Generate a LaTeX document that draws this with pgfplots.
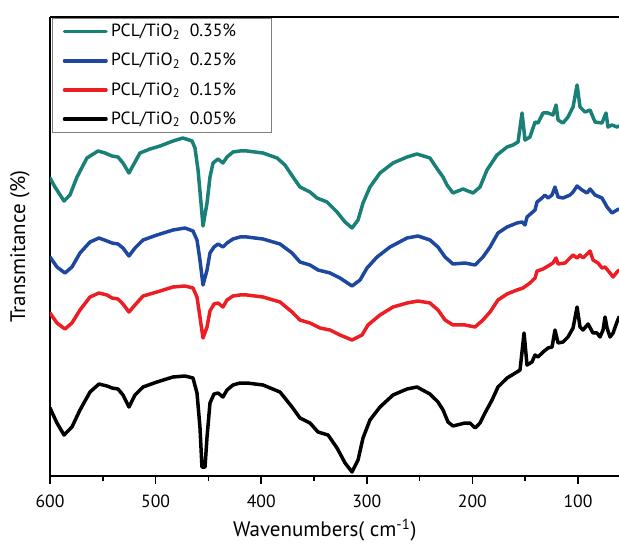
\documentclass[border=0pt]{standalone}
\usepackage{fontspec}
\setmainfont{PT Sans}
\usepackage{pgfplots}
\pgfplotsset{compat=1.18}
\definecolor{cteal}{RGB}{24,128,118}
\definecolor{cblue}{RGB}{30,72,160}
\definecolor{cred}{RGB}{236,30,36}
\begin{document}
\begin{tikzpicture}
\begin{axis}[
  scale only axis, width=341.4pt, height=275.4pt,
  x dir=reverse, xmin=61.2, xmax=600, ymin=0, ymax=459,
  axis x line*=bottom, axis y line*=left,
  axis line style={line width=1pt, -},
  xtick={100,200,300,400,500,600},
  minor xtick={150,250,350,450,550},
  ytick=\empty,
  tick align=outside,
  major tick length=4.8pt, minor tick length=3pt,
  tick style={line width=1pt, black},
  /pgf/number format/assume math mode=true,
  xticklabel style={font=\fontsize{10.6}{12}\selectfont, yshift=-3pt},
  xlabel={Wavenumbers(~cm\textsuperscript{-1})},
  ylabel={Transmitance (\%)},
  xlabel style={font=\fontsize{12.6}{14}\selectfont, at={(axis description cs:0.483,0)}, anchor=center, yshift=-32.4pt},
  ylabel style={font=\fontsize{12.6}{14}\selectfont, at={(axis description cs:-0.053,0.5)}, anchor=center},
  legend cell align=left,
  legend image code/.code={\draw[#1, line width=2pt] (0pt,0pt) -- (25pt,0pt);},
  legend style={draw=gray, line width=0.6pt, at={(axis description cs:0.004,0.998)}, anchor=north west,
    font=\fontsize{10.6}{12}\selectfont, row sep=4.4pt, inner xsep=6pt, inner ysep=1.5pt},
  every axis plot/.append style={line width=2.1pt, line join=round, line cap=round},
]
\addplot[cteal] coordinates {
(600,298)(595.3,289)(586.7,275)(581.1,281)(574.4,299)(565.0,318)(554.5,325)(547.9,323)(541.3,320)(535.6,319)(530.9,313)(525.2,303)(519.5,314)(514.8,323)(505.3,327)(495.8,330)(483.5,335)(474.1,338)(465.5,335)(462.7,328)(459.8,306)(457.0,273)(455.1,250)(451.3,273)(448.5,299)(445.6,313)(440.9,317)(436.2,313)(432.4,319)(426.7,324)(420.1,325)(413.4,325)(398.3,323)(385.0,318)(377.5,311)(369.9,299)(363.3,289)(353.8,284)(347.2,278)(337.7,274)(328.2,264)(320.6,254)(314.0,248)(308.3,256)(303.6,273)(297.0,289)(287.5,303)(275.2,313)(261.9,319)(252.5,322)(240.2,318)(232.6,306)(227.8,299)(224.1,291)(218.4,283)(208.9,287)(199.4,283)(192.8,289)(186.2,306)(176.7,321)(167.2,329)(161.6,331)(156.8,334)(153.0,363)(150.2,336)(145.5,339)(140.7,354)(137.9,353)(133.1,363)(128.4,363)(123.7,361)(120.8,371)(118.9,356)(114.2,353)(109.5,359)(104.7,369)(100.9,391)(98.1,369)(93.4,364)(88.6,366)(83.9,354)(77.3,353)(73.5,363)(71.6,349)(67.8,351)(63.1,349)(61.2,350)
};
\addlegendentry{PCL/TiO\textsubscript{2}~~0.35\%\hspace*{13pt}}
\addplot[cblue] coordinates {
(600,219)(593.4,209)(585.8,203)(579.2,209)(571.6,223)(562.1,234)(553.6,238)(546.0,235)(541.3,233)(535.6,232)(530.9,228)(525.2,220)(519.5,228)(511.9,236)(498.7,241)(483.5,246)(472.2,248)(464.6,245)(460.8,236)(458.0,216)(455.1,191)(451.3,206)(448.5,223)(444.7,229)(440.9,232)(436.2,229)(432.4,233)(426.7,237)(420.1,239)(413.4,239)(398.3,237)(382.2,232)(370.8,223)(363.3,214)(353.8,211)(346.2,206)(334.8,203)(325.4,198)(314.0,190)(306.4,196)(299.8,208)(290.3,219)(278.0,229)(261.9,238)(251.5,240)(240.2,236)(232.6,229)(225.9,219)(218.4,212)(207.0,213)(197.5,211)(190.0,219)(183.3,229)(175.8,243)(167.2,249)(157.8,253)(153.0,254)(150.2,251)(148.3,259)(140.7,266)(138.8,274)(134.1,278)(131.3,281)(128.4,278)(124.6,281)(121.8,289)(118.9,279)(114.2,278)(107.6,281)(104.7,284)(100.9,290)(96.2,286)(91.5,283)(88.6,287)(83.9,281)(77.3,278)(72.5,269)(67.8,263)(63.1,266)(61.2,267)
};
\addlegendentry{PCL/TiO\textsubscript{2}~~0.25\%\hspace*{13pt}}
\addplot[cred] coordinates {
(600,163)(593.4,153)(585.8,147)(579.2,153)(571.6,166)(562.1,179)(553.6,183)(546.0,181)(541.3,178)(535.6,177)(530.9,172)(525.2,164)(519.5,171)(511.9,180)(498.7,184)(483.5,189)(472.2,190)(464.6,188)(460.8,179)(458.0,159)(455.1,138)(451.3,149)(448.5,165)(444.7,172)(440.9,173)(436.2,169)(432.4,176)(426.7,180)(420.1,181)(413.4,181)(398.3,179)(382.2,174)(370.8,164)(363.3,156)(353.8,153)(344.3,148)(334.8,146)(325.4,141)(314.0,136)(304.5,141)(298.9,151)(287.5,161)(275.2,169)(261.9,173)(251.5,175)(240.2,173)(232.6,166)(225.9,156)(218.4,151)(207.0,151)(197.5,149)(190.0,156)(183.3,164)(175.8,176)(167.2,182)(157.8,186)(152.1,188)(145.5,193)(140.7,198)(138.8,205)(133.1,207)(128.4,210)(123.7,213)(120.8,218)(118.9,212)(112.3,213)(107.6,218)(104.7,221)(100.9,218)(98.1,221)(95.3,218)(88.6,225)(85.8,216)(81.1,213)(77.3,208)(74.4,209)(69.7,203)(66.8,199)(63.1,204)(61.2,206)
};
\addlegendentry{PCL/TiO\textsubscript{2}~~0.15\%\hspace*{13pt}}
\addplot[black] coordinates {
(600,68)(593.4,53)(586.7,41)(579.2,49)(571.6,66)(562.1,84)(553.6,92)(546.0,90)(541.3,88)(535.6,87)(530.9,81)(525.2,69)(519.5,81)(511.9,89)(498.7,94)(483.5,99)(472.2,100)(464.6,98)(460.8,83)(458.0,49)(456.1,9)(453.2,9)(451.3,39)(448.5,73)(444.7,82)(440.9,83)(436.2,79)(432.4,86)(426.7,91)(420.1,93)(413.4,93)(398.3,91)(382.2,84)(370.8,69)(363.3,58)(353.8,53)(346.2,44)(336.7,41)(328.2,28)(320.6,13)(314.0,4)(308.3,16)(303.6,38)(297.0,56)(287.5,69)(275.2,81)(261.9,87)(252.5,89)(240.2,82)(232.6,74)(227.8,66)(223.1,54)(218.4,50)(207.0,53)(202.3,53)(197.5,48)(192.8,53)(188.1,63)(181.4,76)(175.8,89)(167.2,98)(157.8,104)(154.9,106)(151.1,143)(148.3,111)(143.6,114)(140.7,121)(137.9,119)(133.1,124)(128.4,128)(124.6,129)(121.8,146)(118.9,133)(114.2,134)(109.5,139)(104.7,148)(100.9,169)(98.1,149)(95.3,146)(90.5,152)(85.8,143)(82.0,143)(79.2,139)(76.3,146)(74.4,159)(72.5,148)(69.7,139)(66.8,143)(63.1,154)(61.2,159)
};
\addlegendentry{PCL/TiO\textsubscript{2}~~0.05\%\hspace*{13pt}}
\draw[line width=1pt] (rel axis cs:0,1) -- (rel axis cs:1,1);
\end{axis}
\path (current axis.south west) ++(-30pt,-42.6pt) coordinate (bbA);
\path (current axis.north east) ++(0pt,10.2pt) coordinate (bbB);
\pgfresetboundingbox
\path (bbA) rectangle (bbB);
\end{tikzpicture}
\end{document}
